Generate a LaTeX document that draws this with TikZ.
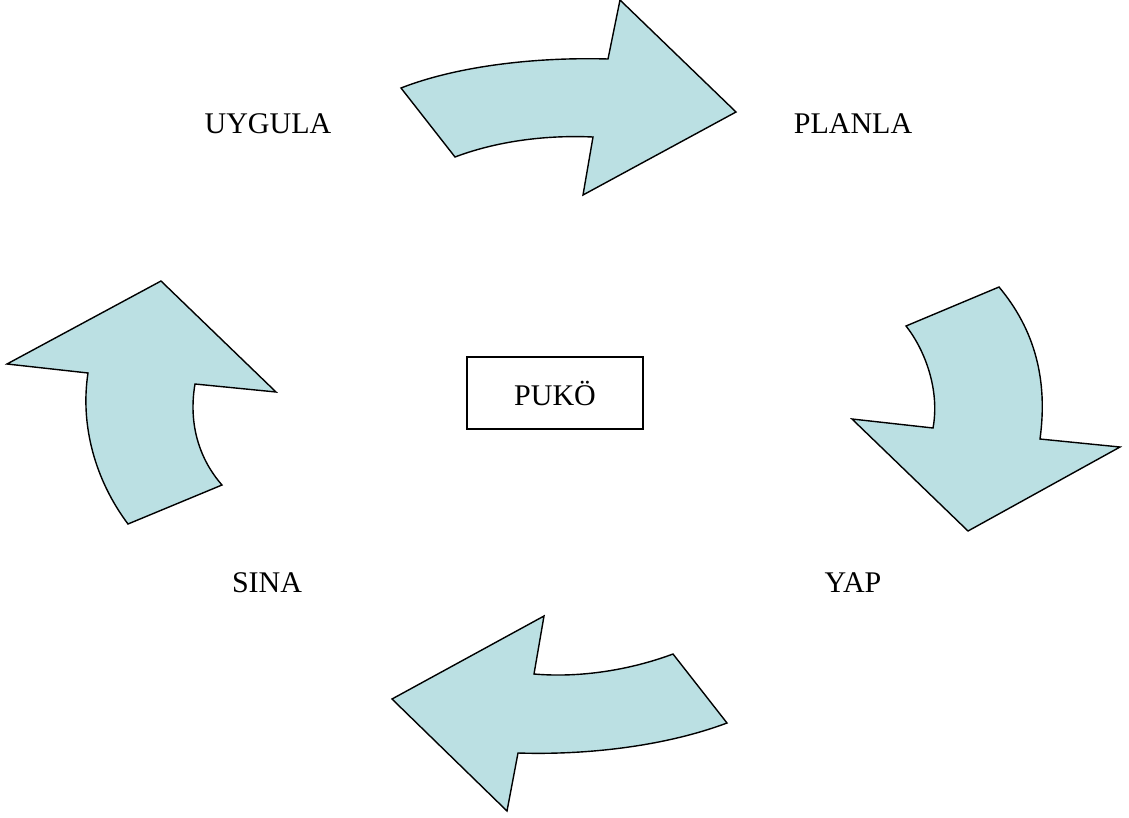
\documentclass[tikz,border=0pt]{standalone}
\usepackage{fontspec}
\setmainfont{Liberation Serif}
\definecolor{arrowfill}{RGB}{187,224,227}
\begin{document}
\begin{tikzpicture}[x=1pt,y=-1pt,
  bigarrow/.style={fill=arrowfill,draw=black,line width=1.4pt,line join=miter},
  label/.style={font=\fontsize{30}{36}\selectfont,inner sep=0pt},
  centerbox/.style={draw=black,line width=1.4pt,minimum width=176pt,minimum height=72pt,font=\fontsize{30}{36}\selectfont}]
\useasboundingbox (0,0) rectangle (1129,817);
% top arrow (UYGULA -> PLANLA)
\path[bigarrow] (401,88) .. controls (460,65) and (540,57) .. (608,59)
  -- (620,0) -- (736,112) -- (583,195) -- (593,137)
  .. controls (550,135) and (500,140) .. (455,157) -- cycle;
% right arrow (PLANLA -> YAP)
\path[bigarrow] (999,287) .. controls (1035,330) and (1048,380) .. (1040,439)
  -- (1120,447) -- (968,531) -- (852,419) -- (933,428)
  .. controls (940,390) and (925,350) .. (906,326) -- cycle;
% bottom arrow (YAP -> SINA)
\path[bigarrow] (727,723) .. controls (660,748) and (580,755) .. (518,753)
  -- (507,811) -- (392,699) -- (544,616) -- (534,674)
  .. controls (580,678) and (630,670) .. (673,654) -- cycle;
% left arrow (SINA -> UYGULA)
\path[bigarrow] (128,524) .. controls (95,480) and (80,425) .. (88,373)
  -- (7,364) -- (161,281) -- (276,392) -- (195,384)
  .. controls (188,425) and (200,460) .. (222,485) -- cycle;
\node[label] (uygula) at (268,124) {UYGULA};
\node[label] (planla) at (853,124) {PLANLA};
\node[label] (sina) at (267,583) {SINA};
\node[label] (yap) at (853,583) {YAP};
\node[centerbox] (puko) at (555,393) {PUKÖ};
\end{tikzpicture}
\end{document}
